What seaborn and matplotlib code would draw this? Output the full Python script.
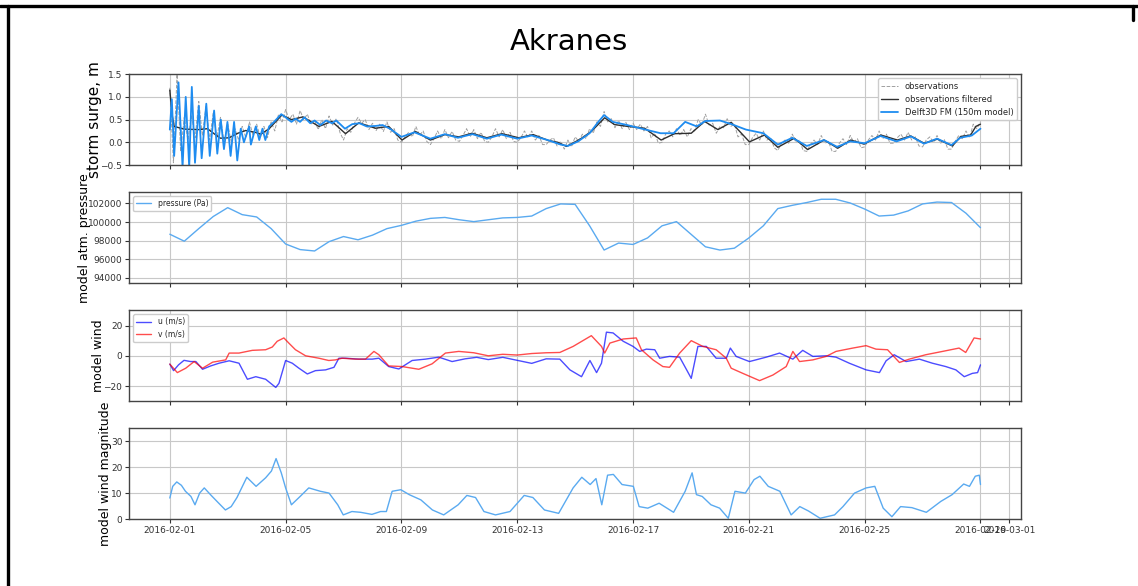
import numpy as np
import pandas as pd
import matplotlib
matplotlib.use('Agg')
import matplotlib.pyplot as plt
import matplotlib.dates as mdates
from matplotlib.lines import Line2D
import seaborn as sns

START = pd.Timestamp('2016-02-01')

# %% storm surge: observations, 3-hourly (one row per day)
obs_vals = [
    1.20, -0.45, 1.50, -0.20, 0.55, 0.05, 0.60, 0.10,
    0.90, 0.15, 0.80, 0.05, 0.65, 0.10, 0.55, 0.00,
    0.40, 0.00, 0.30, 0.05, 0.35, 0.10, 0.45, 0.15,
    0.40, 0.10, 0.35, 0.10, 0.45, 0.25, 0.60, 0.45,
    0.72, 0.50, 0.62, 0.40, 0.70, 0.50, 0.62, 0.40,
    0.48, 0.28, 0.50, 0.30, 0.58, 0.38, 0.52, 0.22,
    0.05, 0.30, 0.22, 0.42, 0.55, 0.42, 0.50, 0.28,
    0.42, 0.26, 0.40, 0.24, 0.45, 0.22, 0.30, 0.05,
    0.00, 0.12, 0.22, 0.12, 0.35, 0.15, 0.25, 0.02,
    -0.05, 0.08, 0.25, 0.08, 0.28, 0.10, 0.24, 0.05,
    0.02, 0.15, 0.30, 0.12, 0.28, 0.08, 0.22, 0.02,
    0.00, 0.12, 0.30, 0.12, 0.28, 0.08, 0.22, 0.02,
    0.00, 0.10, 0.25, 0.10, 0.25, 0.05, 0.15, -0.05,
    -0.05, 0.05, 0.10, -0.08, 0.02, -0.15, 0.05, -0.10,
    0.12, 0.02, 0.18, 0.08, 0.30, 0.20, 0.45, 0.35,
    0.68, 0.45, 0.52, 0.32, 0.48, 0.30, 0.44, 0.28,
    0.42, 0.28, 0.40, 0.25, 0.35, 0.10, 0.20, -0.02,
    0.00, 0.18, 0.25, 0.12, 0.30, 0.15, 0.28, 0.12,
    0.30, 0.25, 0.50, 0.38, 0.62, 0.38, 0.42, 0.20,
    0.35, 0.32, 0.52, 0.35, 0.40, 0.12, 0.18, -0.05,
    -0.05, 0.10, 0.20, 0.05, 0.25, 0.05, 0.10, -0.12,
    -0.18, -0.02, 0.05, -0.02, 0.18, 0.00, 0.05, -0.18,
    -0.20, -0.05, 0.05, -0.05, 0.15, -0.02, 0.02, -0.20,
    -0.20, -0.02, 0.08, -0.05, 0.15, 0.00, 0.08, -0.12,
    -0.10, 0.05, 0.15, 0.05, 0.25, 0.08, 0.18, -0.02,
    -0.02, 0.10, 0.18, 0.05, 0.22, 0.05, 0.12, -0.08,
    -0.10, 0.05, 0.12, 0.00, 0.15, -0.02, 0.06, -0.15,
    -0.15, 0.02, 0.15, 0.08, 0.25, 0.10, 0.40, 0.30,
    0.45,
]

# filtered observations (days since 2016-02-01, m)
filt_days = [0.0, 0.08, 0.15, 0.5, 1.0, 1.3, 1.55, 1.75, 2.05, 2.35, 2.62, 2.95,
             3.15, 3.43, 3.65, 3.87, 4.2, 4.6, 5.15, 5.6, 6.07, 6.53, 7.1, 7.56,
             8.02, 8.48, 9.0, 9.5, 9.98, 10.44, 10.95, 11.47, 12.05, 12.55, 13.08,
             13.4, 13.7, 14.06, 14.22, 14.56, 15.02, 15.36, 15.82, 16.4, 16.97,
             17.43, 18.01, 18.47, 18.93, 19.39, 20.02, 20.54, 21.0, 21.57, 22.03,
             22.6, 23.07, 23.52, 23.98, 24.56, 25.13, 25.59, 26.05, 26.51, 27.03,
             27.32, 27.66, 27.84, 28.0]
filt_vals = [1.15, 0.60, 0.35, 0.29, 0.28, 0.30, 0.18, 0.09, 0.10, 0.20, 0.26, 0.22,
             0.18, 0.30, 0.45, 0.60, 0.50, 0.56, 0.35, 0.46, 0.19, 0.43, 0.31, 0.35,
             0.05, 0.24, 0.05, 0.17, 0.12, 0.20, 0.10, 0.19, 0.10, 0.17, 0.04,
             0.00, -0.09, 0.03, 0.09, 0.24, 0.54, 0.39, 0.35, 0.31, 0.05,
             0.19, 0.20, 0.46, 0.28, 0.44, 0.01, 0.16, -0.11, 0.09, -0.16,
             0.05, -0.13, 0.05, -0.04, 0.16, 0.05, 0.14, -0.02, 0.07, -0.08,
             0.13, 0.16, 0.35, 0.40]

# Delft3D FM model (days since 2016-02-01, m)
model_days = [0.0, 0.07, 0.15, 0.30, 0.44, 0.55, 0.67, 0.76, 0.87, 1.0, 1.1, 1.26,
              1.38, 1.53, 1.64, 1.76, 1.87, 1.99, 2.1, 2.22, 2.33, 2.45, 2.56, 2.74,
              2.80, 2.97, 3.09, 3.2, 3.3, 3.43, 3.6, 3.85, 4.0, 4.2, 4.35, 4.5, 4.65,
              4.85, 5.0, 5.2, 5.4, 5.6, 5.75, 6.05, 6.3, 6.55, 6.8, 7.1, 7.35, 7.6,
              8.0, 8.45, 9.0, 9.5, 9.95, 10.45, 10.95, 11.45, 12.0, 12.5, 13.05,
              13.5, 13.75, 14.1, 14.5, 14.8, 15.0, 15.3, 15.8, 16.3, 16.95, 17.4,
              17.8, 18.2, 18.5, 19.0, 19.4, 19.9, 20.5, 21.0, 21.5, 22.0, 22.6,
              23.05, 23.5, 24.0, 24.55, 25.1, 25.6, 26.05, 26.5, 27.0, 27.3, 27.7,
              28.0]
model_vals = [0.28, 0.95, -0.30, 1.32, -0.55, 1.00, -0.55, 1.22, -0.45, 0.80, -0.35, 0.85,
              -0.30, 0.70, -0.25, 0.50, -0.15, 0.45, -0.30, 0.45, -0.40, 0.30, 0.00, 0.35,
              -0.05, 0.35, 0.05, 0.30, 0.05, 0.35, 0.45, 0.62, 0.55, 0.45, 0.52, 0.45, 0.55,
              0.42, 0.48, 0.38, 0.48, 0.42, 0.48, 0.30, 0.40, 0.42, 0.35, 0.36, 0.38, 0.30,
              0.12, 0.22, 0.08, 0.18, 0.10, 0.18, 0.08, 0.17, 0.08, 0.15, 0.05,
              -0.05, -0.08, 0.02, 0.20, 0.45, 0.60, 0.45, 0.38, 0.30, 0.20, 0.20,
              0.45, 0.35, 0.47, 0.48, 0.40, 0.28, 0.20, -0.05, 0.10, -0.08, 0.05,
              -0.10, 0.02, -0.02, 0.14, 0.02, 0.13, -0.03, 0.08, -0.06, 0.10, 0.15,
              0.30]

# %% model atmospheric pressure, 12-hourly (Pa)
pressure_vals = [98700, 97950, 99300, 100600, 101550, 100800, 100550, 99300,
                 97650, 97050, 96900, 97900, 98450, 98100, 98600, 99300,
                 99650, 100100, 100400, 100500, 100250, 100050, 100250, 100450,
                 100500, 100650, 101450, 101950, 101900, 99600, 97000, 97750,
                 97600, 98300, 99600, 100050, 98700, 97350, 97000, 97200,
                 98300, 99600, 101450, 101800, 102100, 102450, 102450, 102050,
                 101400, 100650, 100750, 101200, 101950, 102150, 102100, 100950,
                 99400]

# %% model wind components (days since 2016-02-01, m/s)
u_days = [0.0, 0.13, 0.3, 0.49, 0.72, 0.9, 1.13, 1.41, 1.7, 2.05, 2.39, 2.68, 2.97,
          3.31, 3.66, 3.77, 4.0, 4.23, 4.46, 4.75, 5.03, 5.38, 5.67, 5.84, 6.07,
          6.53, 6.99, 7.22, 7.56, 7.91, 8.37, 8.83, 9.29, 9.75, 10.2, 10.6, 11.0,
          11.5, 12.0, 12.5, 13.0, 13.47, 13.82, 14.22, 14.51, 14.74, 14.91, 15.08,
          15.31, 15.66, 16.0, 16.23, 16.46, 16.75, 16.92, 17.26, 17.61, 17.84,
          18.01, 18.24, 18.53, 18.87, 19.22, 19.36, 19.56, 20.02, 20.6, 21.06,
          21.52, 21.86, 22.21, 22.67, 23.01, 23.47, 24.05, 24.51, 24.74, 25.02,
          25.43, 25.89, 26.34, 26.8, 27.15, 27.44, 27.72, 27.9, 28.0]
u_vals = [-5.5, -9.8, -6.0, -3.0, -3.8, -3.8, -8.9, -6.7, -4.9, -3.3, -4.9, -15.5, -13.8,
          -15.5, -20.9, -18.2, -3.1, -4.9, -8.2, -12.0, -9.8, -9.3, -7.6, -1.6, -1.6,
          -2.2, -2.2, -1.6, -7.1, -8.7, -3.1, -2.2, -0.9, -3.8, -2.0, -1.0, -2.5,
          -1.0, -3.0, -5.0, -2.0, -2.2, -9.3, -13.8, -3.1, -11.1, -4.9, 15.6,
          15.1, 9.6, 6.2, 2.9, 4.4, 4.0, -1.6, -0.4, -0.9, -8.9,
          -14.9, 6.2, 6.2, -1.6, -1.6, 5.1, -0.4, -3.8, -0.9, 1.8,
          -2.2, 3.6, -0.4, 0.0, -0.9, -4.9, -9.3, -11.1, -3.3, 0.7,
          -3.8, -2.2, -4.9, -7.1, -9.3, -13.8, -11.6, -11.1, -6.0]

v_days = [0.0, 0.26, 0.55, 0.84, 1.13, 1.48, 1.93, 2.05, 2.39, 2.85, 3.31, 3.54, 3.71,
          3.94, 4.11, 4.34, 4.69, 5.15, 5.49, 5.72, 5.95, 6.41, 6.76, 7.05, 7.22,
          7.56, 8.02, 8.6, 9.06, 9.52, 9.98, 10.5, 11.0, 11.5, 12.0, 12.5, 13.0,
          13.47, 13.93, 14.56, 14.91, 15.02, 15.2, 15.66, 16.11, 16.29, 16.69,
          17.03, 17.26, 17.61, 18.01, 18.41, 18.87, 19.22, 19.39, 19.79, 20.37,
          20.83, 21.29, 21.52, 21.75, 22.21, 22.67, 23.01, 23.59, 24.05, 24.39,
          24.79, 25.2, 25.54, 26.11, 26.69, 27.26, 27.49, 27.78, 28.0]
v_vals = [-5.5, -11.1, -8.2, -3.8, -8.2, -4.2, -2.7, 1.8, 1.8, 3.6, 4.0, 5.8, 9.6,
          11.8, 8.4, 4.0, 0.0, -1.6, -3.1, -2.7, -1.6, -2.2, -2.2, 2.9, 0.7,
          -6.7, -7.1, -8.9, -5.3, 1.8, 2.9, 2.0, 0.0, 1.0, 0.5, 1.5, 2.0,
          2.2, 6.2, 13.3, 6.2, 1.8, 8.4, 11.1, 11.8, 4.0, -2.7,
          -7.1, -7.6, 1.8, 10.0, 6.2, 4.0, -1.6, -8.2, -11.6, -16.4,
          -12.7, -7.1, 2.9, -3.8, -2.7, -0.4, 2.9, 5.1, 6.7, 4.4,
          4.0, -4.4, -2.2, 0.7, 2.9, 5.1, 2.2, 11.8, 11.1]

# %% model wind magnitude (days since 2016-02-01, m/s)
mag_days = [0.0, 0.1, 0.24, 0.4, 0.54, 0.73, 0.87, 1.03, 1.19, 1.43, 1.63, 1.92, 2.12,
            2.32, 2.66, 2.98, 3.31, 3.51, 3.67, 3.85, 4.0, 4.2, 4.5, 4.8, 5.2, 5.5,
            5.8, 5.99, 6.29, 6.59, 6.98, 7.28, 7.48, 7.68, 7.98, 8.27, 8.67, 9.07,
            9.46, 9.96, 10.26, 10.56, 10.85, 11.25, 11.75, 12.24, 12.54, 12.94,
            13.43, 13.93, 14.23, 14.52, 14.72, 14.92, 15.12, 15.32, 15.62, 16.01,
            16.21, 16.51, 16.9, 17.4, 17.8, 18.04, 18.19, 18.39, 18.69, 18.99,
            19.29, 19.52, 19.88, 20.18, 20.38, 20.67, 21.07, 21.46, 21.76, 22.06,
            22.46, 22.96, 23.25, 23.65, 24.05, 24.35, 24.64, 24.94, 25.24, 25.63,
            26.13, 26.63, 27.02, 27.42, 27.62, 27.82, 27.96, 28.0]
mag_vals = [8.2, 12.7, 14.4, 13.1, 10.8, 8.8, 5.6, 10.1, 12.1, 9.2, 6.9, 3.6, 4.9,
            8.4, 16.2, 12.7, 16.0, 18.6, 23.4, 17.9, 12.1, 5.6, 8.8, 12.1, 10.8, 10.1,
            5.6, 1.7, 3.0, 2.7, 1.9, 3.0, 3.0, 10.8, 11.4, 9.5, 7.5, 3.6,
            1.7, 5.6, 9.2, 8.4, 3.0, 1.7, 3.0, 9.2, 8.4, 3.6,
            2.3, 12.1, 16.2, 13.4, 15.7, 5.6, 17.0, 17.3, 13.4, 12.7,
            4.9, 4.3, 6.2, 2.7, 10.8, 17.9, 9.5, 8.8, 5.6, 4.3,
            0.4, 10.8, 10.1, 15.3, 16.6, 12.7, 10.8, 1.7, 4.9, 3.2,
            0.4, 1.7, 4.9, 10.1, 12.1, 12.7, 4.3, 1.0, 4.9, 4.5,
            2.7, 6.9, 9.5, 13.6, 12.7, 16.6, 17.0, 13.4]


def to_time(days):
    return START + pd.to_timedelta(np.asarray(days), unit='D')


df_obs = pd.DataFrame({'time': pd.date_range(START, periods=len(obs_vals), freq='3h'),
                       'value': obs_vals})
df_filt = pd.DataFrame({'time': to_time(filt_days), 'value': filt_vals})
df_model = pd.DataFrame({'time': to_time(model_days), 'value': model_vals})
df_pres = pd.DataFrame({'time': pd.date_range(START, periods=len(pressure_vals), freq='12h'),
                        'value': pressure_vals})
df_u = pd.DataFrame({'time': to_time(u_days), 'value': u_vals})
df_v = pd.DataFrame({'time': to_time(v_days), 'value': v_vals})
df_mag = pd.DataFrame({'time': to_time(mag_days), 'value': mag_vals})

# %%
sns.set_style('ticks', {'axes.edgecolor': '#444444', 'grid.color': '#c8c8c8'})
plt.rcParams['font.family'] = ['DejaVu Sans']
plt.rcParams['xtick.labelsize'] = 6.5
plt.rcParams['ytick.labelsize'] = 6.5
plt.rcParams['xtick.color'] = '#333333'
plt.rcParams['ytick.color'] = '#333333'

fig, axes = plt.subplots(4, 1, figsize=(11.38, 5.86), dpi=100, sharex=True)
fig.subplots_adjust(left=0.1136, right=0.8972, top=0.8734, bottom=0.1138, hspace=0.3)
ax1, ax2, ax3, ax4 = axes

sns.lineplot(data=df_obs, x='time', y='value', ax=ax1, color='#a0a0a0', lw=0.7,
             linestyle='--', label='observations')
sns.lineplot(data=df_filt, x='time', y='value', ax=ax1, color='#2f2f2f', lw=1.0,
             label='observations filtered')
sns.lineplot(data=df_model, x='time', y='value', ax=ax1, color='#1e8cf0', lw=1.3,
             label='Delft3D FM (150m model)')
ax1.set_ylim(-0.5, 1.5)
ax1.set_yticks([-0.5, 0.0, 0.5, 1.0, 1.5])
ax1.set_ylabel('storm surge, m', fontsize=11, color='black', labelpad=-1)
ax1.legend(loc='upper right', fontsize=6, framealpha=1, edgecolor='#cccccc',
           fancybox=True)

sns.lineplot(data=df_pres, x='time', y='value', ax=ax2, color='#5aaaf0', lw=1.0,
             label='pressure (Pa)')
ax2.set_ylim(93450, 103200)
ax2.set_yticks([94000, 96000, 98000, 100000, 102000])
ax2.set_ylabel('model atm. pressure', fontsize=9, color='black', labelpad=-2)
ax2.legend(loc='upper left', fontsize=5.5, framealpha=1, edgecolor='#cccccc')

sns.lineplot(data=df_u, x='time', y='value', ax=ax3, color='blue', alpha=0.7, lw=1.0,
             label='u (m/s)')
sns.lineplot(data=df_v, x='time', y='value', ax=ax3, color='red', alpha=0.7, lw=1.0,
             label='v (m/s)')
ax3.set_ylim(-30, 30)
ax3.set_yticks([-20, 0, 20])
ax3.set_ylabel('model wind', fontsize=9, color='black', labelpad=-1)
ax3.legend(loc='upper left', fontsize=5.5, framealpha=1, edgecolor='#cccccc')

sns.lineplot(data=df_mag, x='time', y='value', ax=ax4, color='#5aaaf0', lw=1.0,
             legend=False)
ax4.set_ylim(0, 35)
ax4.set_yticks([0, 10, 20, 30])
ax4.set_ylabel('model wind magnitude', fontsize=9, color='black', labelpad=-1)

for ax in axes:
    ax.grid(True, lw=0.8)
    ax.set_xlabel('')
    ax.tick_params(length=3, width=0.8, pad=2)
    for sp in ax.spines.values():
        sp.set_linewidth(1.0)

ax4.xaxis.set_major_locator(mdates.DayLocator(bymonthday=range(1, 32, 4)))
ax4.xaxis.set_major_formatter(mdates.DateFormatter('%Y-%m-%d'))

fig.suptitle('Akranes', fontsize=21, y=0.952, color='black')

# screenshot frame
fig.add_artist(Line2D([0, 1], [0.9906, 0.9906], transform=fig.transFigure, color='k', lw=2.4))
fig.add_artist(Line2D([0.0066, 0.0066], [0, 0.9906], transform=fig.transFigure, color='k', lw=2.4))
fig.add_artist(Line2D([0.9956, 0.9956], [0.966, 0.9906], transform=fig.transFigure, color='k', lw=2.4))

plt.savefig('out.png', dpi=100)
